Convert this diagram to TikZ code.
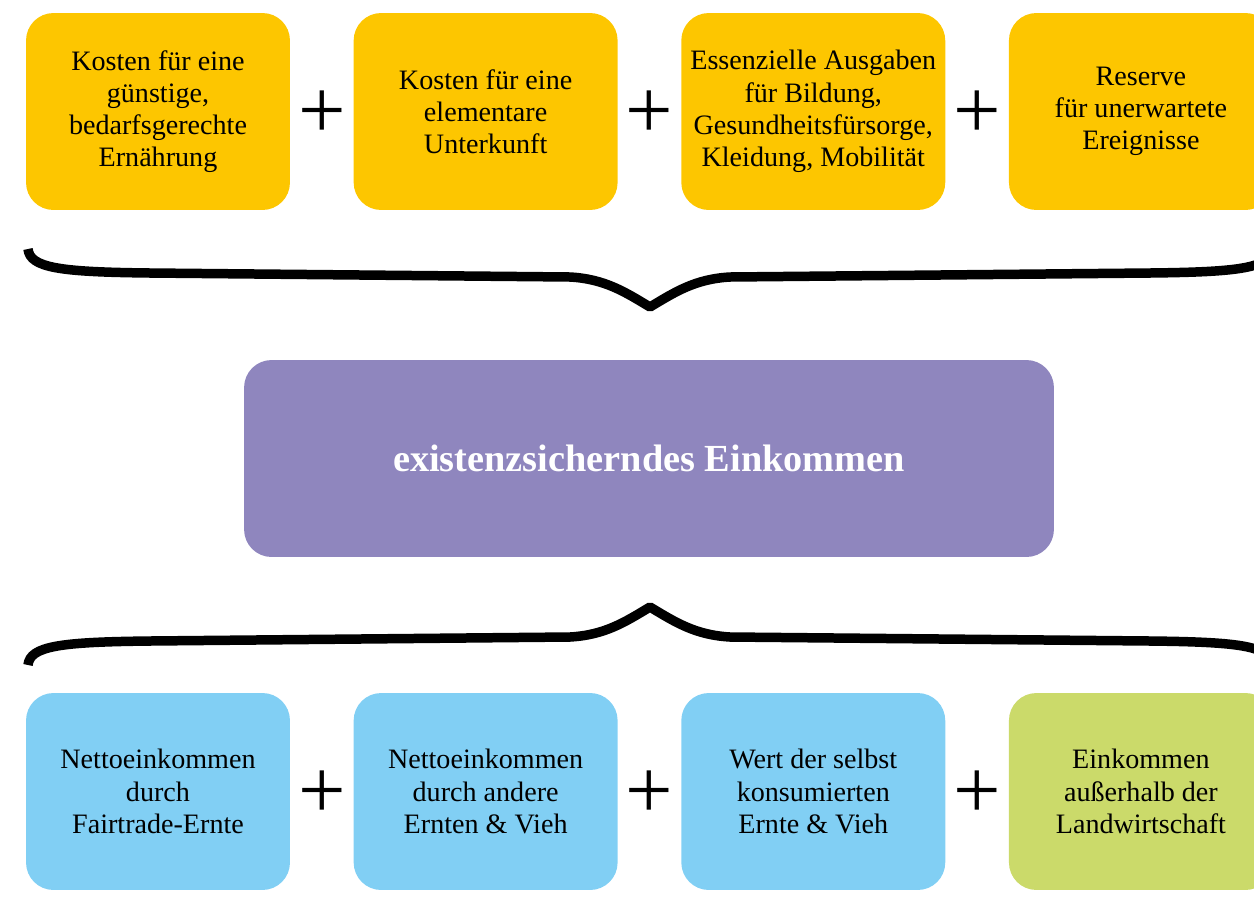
\documentclass[tikz,border=0pt]{standalone}
\usepackage{fontspec}
\setmainfont{Liberation Serif}
\usetikzlibrary{positioning,calc}
\definecolor{costyellow}{RGB}{253,198,0}
\definecolor{incomeblue}{RGB}{129,207,244}
\definecolor{incomegreen}{RGB}{203,218,106}
\definecolor{livingpurple}{RGB}{143,134,190}
\begin{document}
\begin{tikzpicture}[
        x=0.02cm, y=-0.02cm,
        every node/.style = {font=\fontsize{16}{18.3}\selectfont},
        box/.style = {rounded corners=0.55cm, minimum width=5.28cm, minimum height=3.94cm,
                      align=center, inner sep=0pt},
        cost/.style = {box, fill=costyellow},
        income/.style = {box, fill=incomeblue},
        plus/.style = {font=\fontsize{48}{48}\selectfont, inner sep=0pt, yshift=-0.06cm},
        brace/.style = {line width=0.19cm, line join=bevel},
        node distance=1.26cm
        ]
    \useasboundingbox (0,0) rectangle (1254,900);
    \clip (0,0) rectangle (1254,900);
    % costs
    \node[cost] (cost1) at (158,111.5) {Kosten für eine\\günstige,\\bedarfsgerechte\\Ernährung};
    \node[cost, right=of cost1] (cost2) {Kosten für eine\\elementare\\Unterkunft};
    \node[cost, right=of cost2] (cost3) {Essenzielle Ausgaben\\für Bildung,\\Gesundheitsfürsorge,\\Kleidung, Mobilität};
    \node[cost, right=of cost3] (cost4) {Reserve\\für unerwartete\\Ereignisse};
    \foreach \a/\b in {1/2, 2/3, 3/4}
        \node[plus] (costplus\a) at ($(cost\a.east)!0.5!(cost\b.west)$) {+};
    % living income
    \node[box, fill=livingpurple, minimum width=16.2cm, text=white,
          font=\bfseries\fontsize{21.8}{26}\selectfont] (living) at (649,458.5) {existenzsicherndes Einkommen};
    % incomes
    \node[income] (income1) at (158,791.5) {Nettoeinkommen\\durch\\Fairtrade-Ernte};
    \node[income, right=of income1] (income2) {Nettoeinkommen\\durch andere\\Ernten \& Vieh};
    \node[income, right=of income2] (income3) {Wert der selbst\\konsumierten\\Ernte \& Vieh};
    \node[income, fill=incomegreen, right=of income3] (income4) {Einkommen\\außerhalb der\\Landwirtschaft};
    \foreach \a/\b in {1/2, 2/3, 3/4}
        \node[plus] (incomeplus\a) at ($(income\a.east)!0.5!(income\b.west)$) {+};
    % braces
    \draw[brace] (28,249) .. controls (30,268) and (60,272) .. (150,273) -- (570,277)
        .. controls (605,279) and (625,292) .. (650,307)
        .. controls (675,292) and (695,279) .. (730,277) -- (1150,273)
        .. controls (1240,272) and (1270,268) .. (1272,249);
    \draw[brace] (28,665) .. controls (30,646) and (60,642) .. (150,641) -- (570,637)
        .. controls (605,635) and (625,622) .. (650,607)
        .. controls (675,622) and (695,635) .. (730,637) -- (1150,641)
        .. controls (1240,642) and (1270,646) .. (1272,665);
\end{tikzpicture}
\end{document}
